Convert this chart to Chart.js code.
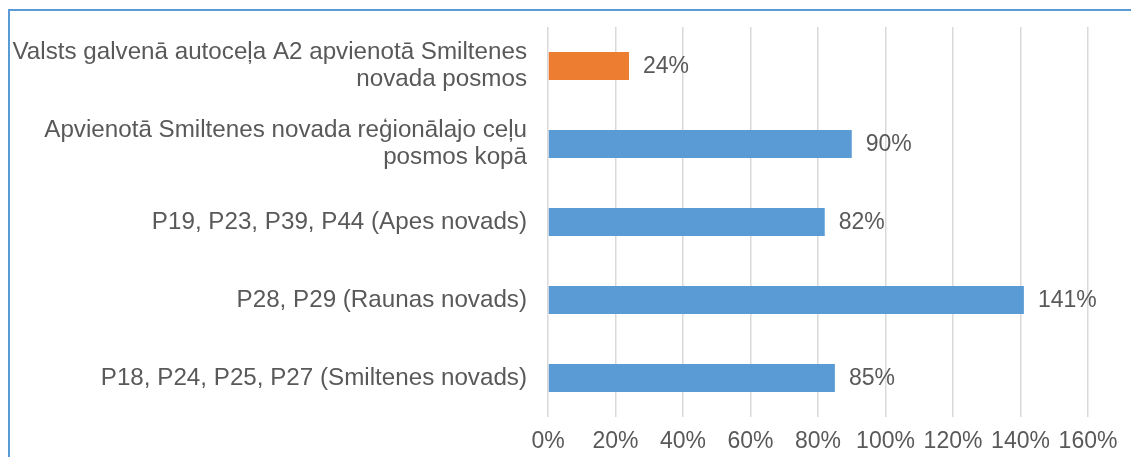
<!DOCTYPE html>
<html>
<head>
<meta charset="utf-8">
<script src="https://cdn.jsdelivr.net/npm/chart.js@4/dist/chart.umd.min.js"></script>
<style>
  html, body { margin: 0; padding: 0; background: #ffffff; overflow: hidden; }
  #wrap { position: relative; width: 1131px; height: 457px; }
  #frame {
    position: absolute; left: 8px; top: 9px; width: 1200px; height: 600px;
    border-left: 2px solid #5b9bd5; border-top: 2px solid #5b9bd5;
    pointer-events: none;
  }
  canvas { position: absolute; left: 0; top: 0; }
</style>
</head>
<body>
<div id="wrap">
  <div id="frame"></div>
  <canvas id="chart" width="1131" height="457"></canvas>
</div>
<script>
// Road sections (top to bottom) and their share, in percent
const categories = [
  ["Valsts galvenā autoceļa A2 apvienotā Smiltenes", "novada posmos"],
  ["Apvienotā Smiltenes novada reģionālajo ceļu", "posmos kopā"],
  "P19, P23, P39, P44 (Apes novads)",
  "P28, P29 (Raunas novads)",
  "P18, P24, P25, P27 (Smiltenes novads)"
];
const values = [24, 90, 82, 141, 85];
const barColors = ["#ed7d31", "#5b9bd5", "#5b9bd5", "#5b9bd5", "#5b9bd5"];
const axisMax = 160;
const axisStep = 20;

const textColor = "#595959";
const fontFamily = "'Liberation Sans', Arial, sans-serif";

// Writes each bar's value just past its end
const valueLabels = {
  id: "valueLabels",
  afterDatasetsDraw(chart) {
    const ctx = chart.ctx;
    const meta = chart.getDatasetMeta(0);
    ctx.save();
    ctx.font = "23px " + fontFamily;
    ctx.fillStyle = textColor;
    ctx.textAlign = "left";
    ctx.textBaseline = "middle";
    meta.data.forEach((bar, i) => {
      ctx.fillText(values[i] + "%", bar.x + 14, bar.y + 1);
    });
    ctx.restore();
  }
};

new Chart(document.getElementById("chart"), {
  type: "bar",
  data: {
    labels: categories,
    datasets: [{
      data: values,
      backgroundColor: barColors,
      borderWidth: 0,
      barPercentage: 0.36,
      categoryPercentage: 1
    }]
  },
  options: {
    indexAxis: "y",
    responsive: false,
    animation: false,
    devicePixelRatio: 1,
    layout: { padding: { top: 27, right: 43, left: 0, bottom: 0 } },
    plugins: {
      legend: { display: false },
      tooltip: { enabled: false }
    },
    scales: {
      x: {
        min: 0,
        max: axisMax,
        border: { display: false },
        grid: { color: "#d9d9d9", lineWidth: 1.5, drawTicks: false },
        ticks: {
          stepSize: axisStep,
          padding: 11,
          color: textColor,
          font: { family: fontFamily, size: 23 },
          maxRotation: 0,
          autoSkip: false,
          callback: v => v + "%"
        },
        afterFit(scale) { scale.height = 40; }
      },
      y: {
        border: { display: false },
        grid: { display: false, drawTicks: false },
        ticks: {
          padding: 21,
          color: textColor,
          font: { family: fontFamily, size: 24.2, lineHeight: 1.12 },
          autoSkip: false
        },
        afterFit(scale) {
          scale.width = 548;
          scale.paddingTop = 0;
          scale.paddingBottom = 0;
        }
      }
    }
  },
  plugins: [valueLabels]
});
</script>
</body>
</html>
